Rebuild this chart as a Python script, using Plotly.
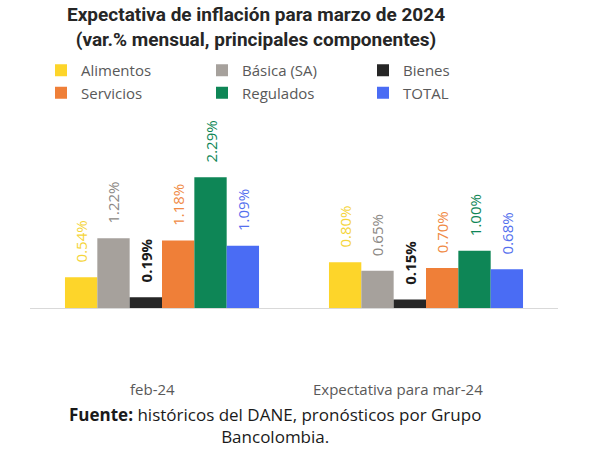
import plotly.graph_objects as go

categories = ["feb-24", "Expectativa para mar-24"]
series_names = ["Alimentos", "Básica (SA)", "Bienes", "Servicios", "Regulados", "TOTAL"]
alimentos = [0.54, 0.80]
basica = [1.22, 0.65]
bienes = [0.19, 0.15]
servicios = [1.18, 0.70]
regulados = [2.29, 1.00]
total = [1.09, 0.68]
values = [alimentos, basica, bienes, servicios, regulados, total]

bar_colors = ["#FDD52A", "#A6A19C", "#262626", "#EF7F38", "#0E8656", "#4A6CF4"]
label_colors = ["#F5D53C", "#8C8884", "#1A1A1A", "#F08A45", "#0E8656", "#5470EE"]
bold = [False, False, True, False, False, False]
cat_label_shift = [-10, -28]

title_text = "<b>Expectativa de inflación para marzo de 2024<br>(var.% mensual, principales componentes)</b>"
source_text = "<b>Fuente:</b> históricos del DANE, pronósticos por Grupo<br>Bancolombia."

fig = go.Figure()
pad = "\u00a0\u00a0\u00a0"
for name, vals, col, lcol, b in zip(series_names, values, bar_colors, label_colors, bold):
    tmpl = pad + ("<b>%{y:.2f}%</b>" if b else "%{y:.2f}%")
    fig.add_trace(go.Bar(
        x=categories, y=vals, name=name,
        marker=dict(color=col, line=dict(width=0)),
        texttemplate=tmpl, textposition="outside", textangle=-90,
        outsidetextfont=dict(color=lcol, size=15, family="Open Sans"),
        cliponaxis=False, constraintext="none",
        hovertemplate=name + ": %{y:.2f}%<extra></extra>",
    ))

annotations = [
    dict(text=title_text, xref="paper", yref="paper", x=(256 - 30) / 528, y=1 + 99 / 208,
         xanchor="center", yanchor="top", showarrow=False,
         font=dict(size=19, color="#262626", family="Roboto")),
    dict(text=source_text, xref="paper", yref="paper", x=0.464, y=-0.5625,
         xanchor="center", yanchor="middle", showarrow=False,
         font=dict(size=17, color="#1A1A1A", family="Open Sans")),
]
for cat, dx in zip(categories, cat_label_shift):
    annotations.append(dict(text=cat, xref="x", yref="y", x=cat, y=0, yshift=-81, xshift=dx,
                            xanchor="center", yanchor="middle", showarrow=False,
                            font=dict(size=15, color="#595959", family="Open Sans")))

fig.update_layout(
    width=600, height=450,
    margin=dict(l=30, r=42, t=100, b=142, autoexpand=False),
    paper_bgcolor="white", plot_bgcolor="white",
    barmode="group", bargap=0.265, bargroupgap=0,
    font=dict(family="Open Sans", color="#595959"),
    legend=dict(orientation="h", x=41 / 600, y=1 - 54 / 450, xanchor="left", yanchor="top",
                xref="container", yref="container",
                entrywidth=116, entrywidthmode="pixels",
                font=dict(size=15, color="#595959", family="Open Sans"),
                traceorder="normal", itemclick=False, itemdoubleclick=False),
    showlegend=True,
    xaxis=dict(showline=True, linecolor="#D9D9D9", linewidth=1, ticks="",
               showticklabels=False, fixedrange=True),
    yaxis=dict(range=[0, 3.64], visible=False, fixedrange=True),
    annotations=annotations,
)

fig.write_html("out.html", config={"displayModeBar": False},
               post_script="document.body.style.margin='0';document.body.style.padding='0';")
